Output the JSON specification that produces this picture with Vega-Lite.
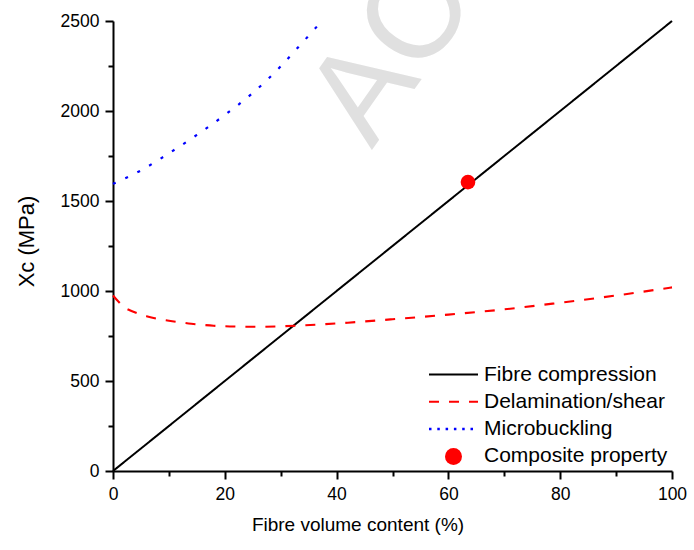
{
  "$schema": "https://vega.github.io/schema/vega-lite/v6.json",
  "autosize": {"type": "none"},
  "width": 559,
  "height": 450,
  "padding": {"left": 113, "top": 21, "right": 22, "bottom": 79},
  "background": "white",
  "config": {
    "view": {"stroke": null},
    "font": "Liberation Sans",
    "axis": {
      "grid": false,
      "domainColor": "black",
      "domainWidth": 2,
      "tickColor": "black",
      "tickWidth": 2,
      "labelFont": "Liberation Sans",
      "labelFontSize": 17.5,
      "labelColor": "black",
      "titleFont": "Liberation Sans",
      "titleFontWeight": "normal",
      "titleColor": "black",
      "labelPadding": 6
    },
    "legend": {
      "labelFont": "Liberation Sans",
      "labelFontSize": 21,
      "labelColor": "black",
      "labelLimit": 400
    }
  },
  "datasets": {
    "curves": [
      {"series": "Fibre compression", "x": 0, "y": 0},
      {"series": "Fibre compression", "x": 100, "y": 2500},
      {"series": "Delamination/shear", "x": 0, "y": 975},
      {"series": "Delamination/shear", "x": 1, "y": 940},
      {"series": "Delamination/shear", "x": 2, "y": 910},
      {"series": "Delamination/shear", "x": 3, "y": 893},
      {"series": "Delamination/shear", "x": 4, "y": 880},
      {"series": "Delamination/shear", "x": 5, "y": 869},
      {"series": "Delamination/shear", "x": 6, "y": 860},
      {"series": "Delamination/shear", "x": 8, "y": 845},
      {"series": "Delamination/shear", "x": 10, "y": 835},
      {"series": "Delamination/shear", "x": 12, "y": 826},
      {"series": "Delamination/shear", "x": 14, "y": 818},
      {"series": "Delamination/shear", "x": 16, "y": 812},
      {"series": "Delamination/shear", "x": 18, "y": 807},
      {"series": "Delamination/shear", "x": 20, "y": 804},
      {"series": "Delamination/shear", "x": 23, "y": 802},
      {"series": "Delamination/shear", "x": 26, "y": 801},
      {"series": "Delamination/shear", "x": 30, "y": 804},
      {"series": "Delamination/shear", "x": 34, "y": 809},
      {"series": "Delamination/shear", "x": 38, "y": 816},
      {"series": "Delamination/shear", "x": 42, "y": 824},
      {"series": "Delamination/shear", "x": 50, "y": 843},
      {"series": "Delamination/shear", "x": 60, "y": 869},
      {"series": "Delamination/shear", "x": 70, "y": 898},
      {"series": "Delamination/shear", "x": 80, "y": 935},
      {"series": "Delamination/shear", "x": 90, "y": 975},
      {"series": "Delamination/shear", "x": 100, "y": 1020},
      {"series": "Microbuckling", "x": 0, "y": 1595},
      {"series": "Microbuckling", "x": 5, "y": 1670},
      {"series": "Microbuckling", "x": 10, "y": 1765},
      {"series": "Microbuckling", "x": 15, "y": 1867},
      {"series": "Microbuckling", "x": 20, "y": 1978},
      {"series": "Microbuckling", "x": 25, "y": 2100},
      {"series": "Microbuckling", "x": 30, "y": 2248},
      {"series": "Microbuckling", "x": 33, "y": 2350},
      {"series": "Microbuckling", "x": 36.5, "y": 2470}
    ],
    "points": [
      {"series": "Composite property", "x": 63.5, "y": 1605}
    ],
    "watermark": [
      {"text": "ACCEPTED MANUSCRIPT"}
    ]
  },
  "layer": [
    {
      "data": {"name": "watermark"},
      "mark": {"type": "text", "angle": -55, "align": "left", "baseline": "alphabetic", "fontSize": 131, "font": "Liberation Sans", "color": "#e0e0e0"},
      "encoding": {
        "x": {"datum": 46.3, "type": "quantitative"},
        "y": {"datum": 1782, "type": "quantitative"},
        "text": {"field": "text"}
      }
    },
    {
      "data": {"name": "curves"},
      "mark": {"type": "line", "interpolate": "monotone"},
      "encoding": {
        "x": {
          "field": "x", "type": "quantitative",
          "scale": {"domain": [0, 100], "nice": false, "zero": false},
          "axis": {
            "title": "Fibre volume content (%)",
            "titleFontSize": 19,
            "format": "d",
            "values": [0, 10, 20, 30, 40, 50, 60, 70, 80, 90, 100],
            "labelExpr": "datum.value % 20 === 0 ? datum.label : ''",
            "tickSize": {"condition": {"test": "datum.value % 20 === 0", "value": 8}, "value": 5},
            "labelFlush": false,
            "titleX": 244.5,
            "titlePadding": 13
          }
        },
        "y": {
          "field": "y", "type": "quantitative",
          "scale": {"domain": [0, 2500], "nice": false},
          "axis": {
            "title": "Xc (MPa)",
            "titleFontSize": 22,
            "format": "d",
            "values": [0, 250, 500, 750, 1000, 1250, 1500, 1750, 2000, 2250, 2500],
            "labelExpr": "datum.value % 500 === 0 ? datum.label : ''",
            "tickSize": {"condition": {"test": "datum.value % 500 === 0", "value": 8}, "value": 5},
            "labelFlush": false,
            "titleY": 220,
            "titlePadding": 22
          }
        },
        "color": {
          "field": "series", "type": "nominal",
          "scale": {
            "domain": ["Fibre compression", "Delamination/shear", "Microbuckling", "Composite property"],
            "range": ["#000000", "#ff0000", "#0000ff", "#ff0000"]
          },
          "legend": {
            "title": null,
            "orient": "bottom-right",
            "offset": 4,
            "padding": 0,
            "symbolSize": 400,
            "labelOffset": 20,
            "labelLimit": 400,
            "rowPadding": 5.3,
            "encode": {
              "symbols": {
                "update": {
                  "shape": {"signal": "datum.value === 'Composite property' ? 'circle' : 'M-2.45,0H2.45'"},
                  "size": {"signal": "datum.value === 'Composite property' ? 289 : 400"},
                  "fill": {"signal": "datum.value === 'Composite property' ? '#ff0000' : 'transparent'"},
                  "stroke": {"scale": "color", "field": "value"},
                  "strokeWidth": {"signal": "datum.value === 'Composite property' ? 0 : datum.value === 'Microbuckling' ? 2.5 : 2"},
                  "strokeDash": {"signal": "datum.value === 'Delamination/shear' ? [10, 10] : datum.value === 'Microbuckling' ? [2.5, 5.8] : [1, 0]"},
                  "opacity": {"value": 1}
                }
              }
            }
          }
        },
        "strokeDash": {
          "field": "series", "type": "nominal",
          "scale": {
            "domain": ["Fibre compression", "Delamination/shear", "Microbuckling"],
            "range": [[1, 0], [10, 10], [3, 10.5]]
          },
          "legend": null
        },
        "strokeWidth": {
          "field": "series", "type": "nominal",
          "scale": {
            "domain": ["Fibre compression", "Delamination/shear", "Microbuckling"],
            "range": [2, 2.2, 3]
          },
          "legend": null
        }
      }
    },
    {
      "data": {"name": "points"},
      "mark": {"type": "point", "filled": true, "shape": "circle", "size": 216, "opacity": 1},
      "encoding": {
        "x": {"field": "x", "type": "quantitative"},
        "y": {"field": "y", "type": "quantitative"},
        "color": {"field": "series", "type": "nominal"}
      }
    }
  ]
}
